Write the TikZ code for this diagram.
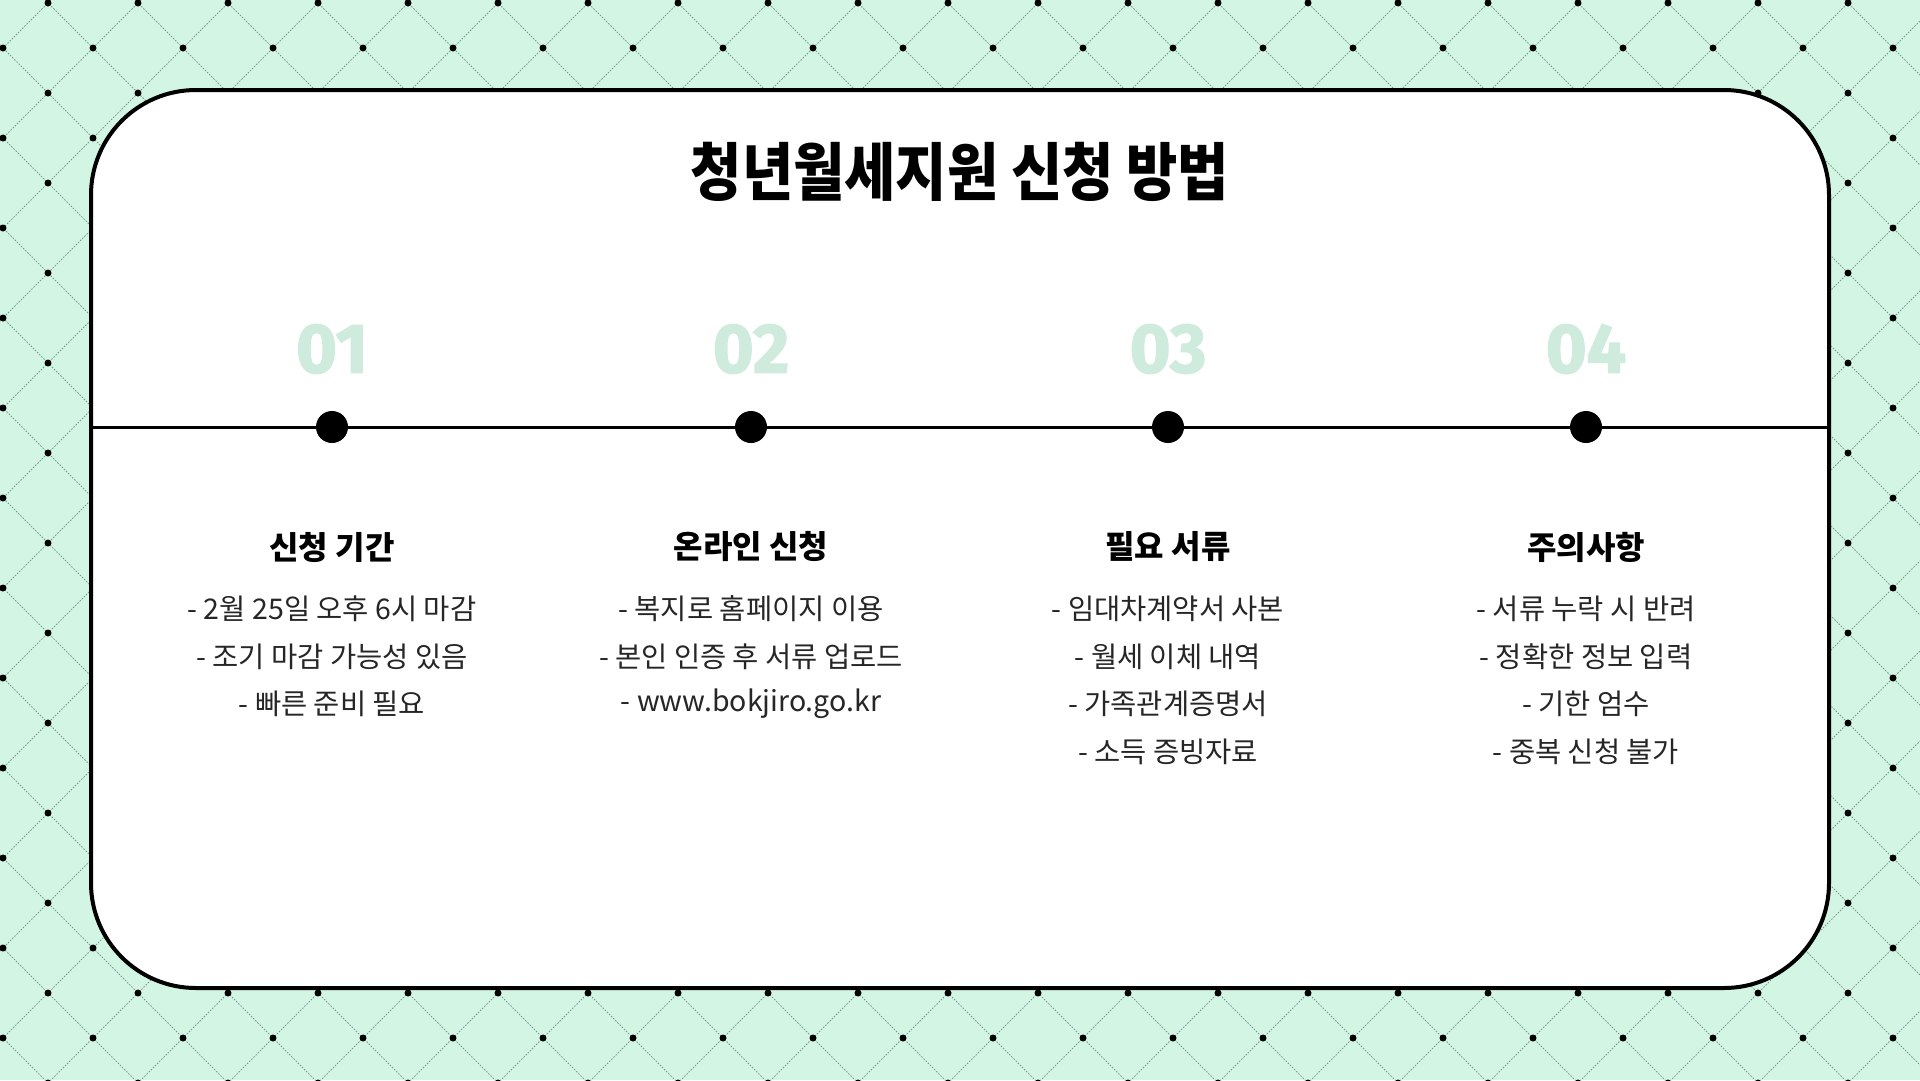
\documentclass[tikz,border=0pt]{standalone}
\usepackage{fontspec}
\usepackage{graphicx}
\setmainfont{Noto Sans CJK KR}
\newfontfamily\numfont{Fira Sans}[BoldFeatures={FakeBold=2}]
\definecolor{mint}{HTML}{D3F5E3}
\definecolor{numgreen}{HTML}{CFEBDD}
\definecolor{gridgray}{HTML}{7A9A8B}

\begin{document}
\begin{tikzpicture}[x=1pt, y=-1pt,
    circ/.style={fill=black, circle, inner sep=0pt, minimum size=32pt},
    num/.style={text=numgreen, inner sep=0pt, font=\numfont\bfseries\fontsize{70}{70}\selectfont},
    head/.style={font=\bfseries\fontsize{32}{38}\selectfont},
    item/.style={text=black!85, font=\fontsize{28.5}{34}\selectfont},
    grid/.style={gridgray, line width=0.9pt, dash pattern=on 1.5pt off 1.5pt}]
    % background with diamond grid
    \fill[mint] (0,0) rectangle (1920,1080);
    \useasboundingbox (0,0) rectangle (1920,1080);
    \begin{scope}
        \clip (0,0) rectangle (1920,1080);
        \foreach \k in {-12,...,33} \draw[grid] ({51+90*\k},0) -- ({51+90*\k-1080},1080);
        \foreach \k in {-12,...,21} \draw[grid] ({45+90*\k},0) -- ({45+90*\k+1080},1080);
        \foreach \i in {0,...,43} \foreach \j in {0,...,24} {
            \pgfmathtruncatemacro\s{mod(\i+\j,2)}
            \ifnum\s=1 \fill ({3+45*\i},{3+45*\j}) circle (3.5); \fi
        }
    \end{scope}
    % card
    \draw[fill=white, line width=4pt, rounded corners=105pt] (91,90) rectangle (1829,988);
    \node (title) at (960,172) {\scalebox{0.885}[1]{\bfseries\fontsize{63}{70}\selectfont 청년월세지원 신청 방법}};
    % timeline
    \coordinate (tl-start) at (93,427); \coordinate (tl-end) at (1827,427);
    \draw[line width=3pt] (tl-start) -- (tl-end);
    \node[circ] (1) at (332,427) {}; \node[circ] (2) at (751,427) {}; \node[circ] (3) at (1168,427) {}; \node[circ] (4) at (1586,427) {};
    \node[num] (n1) at (332,349) {01}; \node[num] (n2) at (751,349) {02};
    \node[num] (n3) at (1168,349) {03}; \node[num] (n4) at (1586,349) {04};
    \node[head] (h1) at (332,547) {신청 기간}; \node[head] (h2) at (751,547) {온라인 신청};
    \node[head] (h3) at (1168,547) {필요 서류}; \node[head] (h4) at (1586,547) {주의사항};
    % items
    \foreach \t [count=\n] in {- 2월 25일 오후 6시 마감, - 조기 마감 가능성 있음, - 빠른 준비 필요}
        \node[item] (a\n) at (332,{609+47.5*(\n-1)}) {\t};
    \foreach \t [count=\n] in {- 복지로 홈페이지 이용, - 본인 인증 후 서류 업로드, - www.bokjiro.go.kr}
        \node[item] (b\n) at (751,{609+47.5*(\n-1)}) {\t};
    \foreach \t [count=\n] in {- 임대차계약서 사본, - 월세 이체 내역, - 가족관계증명서, - 소득 증빙자료}
        \node[item] (c\n) at (1168,{609+47.5*(\n-1)}) {\t};
    \foreach \t [count=\n] in {- 서류 누락 시 반려, - 정확한 정보 입력, - 기한 엄수, - 중복 신청 불가}
        \node[item] (d\n) at (1586,{609+47.5*(\n-1)}) {\t};
\end{tikzpicture}
\end{document}
